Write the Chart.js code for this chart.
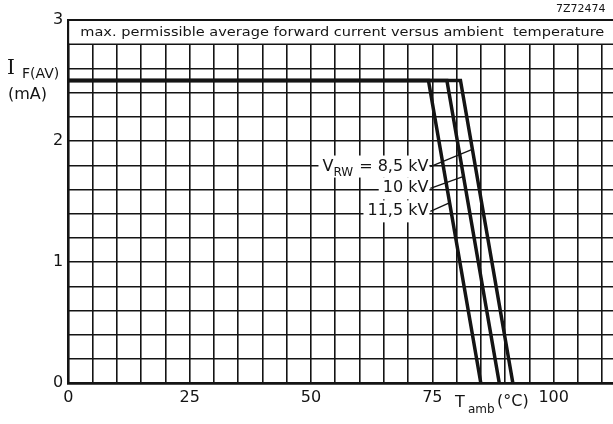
<!DOCTYPE html>
<html><head><meta charset="utf-8">
<script src="https://cdn.jsdelivr.net/npm/chart.js@4/dist/chart.umd.min.js"></script>
<style>
html,body{margin:0;padding:0;background:#fff;overflow:hidden;width:613px;height:424px}
#wrap{position:relative;width:680px;height:424px}
</style>
</head><body><div id="wrap"><canvas id="c" width="680" height="424"></canvas></div>
<script>
// ---- data ----
const xTickLabels = [0, 25, 50, 75, 100];
const yTickLabels = [0, 1, 2, 3];
const seriesNames = ['8,5 kV', '10 kV', '11,5 kV'];
const temp85  = [0, 80.8, 91.6];  const curr85  = [2.5, 2.5, 0];
const temp10  = [0, 78.0, 88.8];  const curr10  = [2.5, 2.5, 0];
const temp115 = [0, 74.2, 85.0];  const curr115 = [2.5, 2.5, 0];
const leaderTemp85  = [74.6, 83.1]; const leaderCurr85  = [1.79, 1.93];
const leaderTemp10  = [74.6, 81.6]; const leaderCurr10  = [1.61, 1.71];
const leaderTemp115 = [74.6, 78.5]; const leaderCurr115 = [1.42, 1.49];
const xMin = 0, xMax = 125, xStep = 5;
const yMin = 0, yMax = 3, yStep = 0.2, titleBandFrom = 2.8;
const titleText = 'max. permissible average forward current versus ambient  temperature';
const figCode = '7Z72474';

const INK = '#141414';
const FONT = '"DejaVu Sans", sans-serif';
const pts = (xs, ys) => xs.map((x, i) => ({x, y: ys[i]}));

const curves = [[temp85, curr85], [temp10, curr10], [temp115, curr115]];
const leaders = [[leaderTemp85, leaderCurr85], [leaderTemp10, leaderCurr10], [leaderTemp115, leaderCurr115]];

const datasets = [];
curves.forEach(([xs, ys], i) => datasets.push({
  label: seriesNames[i], data: pts(xs, ys), showLine: true, borderColor: INK,
  borderWidth: 3.5, pointRadius: 0, tension: 0, borderJoinStyle: 'miter'
}));
leaders.forEach(([xs, ys], i) => datasets.push({
  label: 'leader ' + seriesNames[i], data: pts(xs, ys), showLine: true, borderColor: INK,
  borderWidth: 1.3, pointRadius: 0, tension: 0
}));

const isInt = v => Math.abs(v - Math.round(v)) < 1e-6;

const annot = {
  id: 'annot',
  beforeDatasetsDraw(chart) {
    const {ctx, scales: {x, y}} = chart;
    ctx.save();
    leaders.forEach(([xs, ys], i) => {
      const px = x.getPixelForValue(xs[0]) - 2;
      const py = y.getPixelForValue(ys[0]);
      ctx.font = '16px ' + FONT;
      const main = (i === 0 ? '= ' : '') + seriesNames[i];
      const wMain = ctx.measureText(main).width;
      let left = px - wMain;
      let parts = [];
      if (i === 0) {
        ctx.font = '12px ' + FONT;
        const wSub = ctx.measureText('RW').width;
        ctx.font = '16px ' + FONT;
        const wV = ctx.measureText('V').width;
        const subLeft = left - 6 - wSub;
        const vLeft = subLeft - wV;
        parts.push(['V', vLeft, py, 16], ['RW', subLeft, py + 6, 12]);
        left = vLeft;
      }
      ctx.fillStyle = '#fff';
      ctx.fillRect(left - 4, py - 11, px - left + 5, 22);
      ctx.fillStyle = INK;
      ctx.textBaseline = 'middle';
      ctx.textAlign = 'left';
      parts.forEach(([t, lx, ly, fs]) => { ctx.font = fs + 'px ' + FONT; ctx.fillText(t, lx, ly); });
      ctx.font = '16px ' + FONT;
      ctx.fillText(main, px - wMain, py);
    });
    ctx.restore();
  },
  afterDatasetsDraw(chart) {
    const {ctx, chartArea: ca, scales: {x, y}} = chart;
    ctx.save();
    // title band
    const yTop = y.getPixelForValue(yMax), yBot = y.getPixelForValue(titleBandFrom);
    ctx.fillStyle = '#fff';
    ctx.fillRect(ca.left + 1, yTop + 1, ca.right - ca.left, yBot - yTop - 1);
    ctx.strokeStyle = INK;
    ctx.lineWidth = 1.6;
    ctx.beginPath(); ctx.moveTo(ca.left, yBot); ctx.lineTo(ca.right, yBot); ctx.stroke();
    ctx.lineWidth = 2;
    ctx.beginPath(); ctx.moveTo(ca.left, yTop); ctx.lineTo(ca.right, yTop); ctx.stroke();
    ctx.fillStyle = INK;
    ctx.font = '13px ' + FONT;
    ctx.textBaseline = 'middle';
    ctx.textAlign = 'left';
    const tw = ctx.measureText(titleText).width;
    const targetW = 524;
    ctx.save();
    ctx.translate(ca.left + 12, (yTop + yBot) / 2 + 0.5);
    ctx.scale(targetW / tw, 1);
    ctx.fillText(titleText, 0, 0);
    ctx.restore();
    // figure code
    ctx.font = '11px ' + FONT;
    ctx.textBaseline = 'middle';
    ctx.fillText(figCode, 556, 9);
    // y axis title
    ctx.font = '20px "DejaVu Serif", serif';
    ctx.fillText('I', 7, 69);
    ctx.font = '14px ' + FONT;
    ctx.fillText('F(AV)', 22, 74);
    ctx.font = '16px ' + FONT;
    ctx.fillText('(mA)', 8, 95);
    // x axis title
    ctx.font = '16px ' + FONT;
    ctx.fillText('T', 455, 403);
    ctx.font = '12px ' + FONT;
    ctx.fillText('amb', 468, 410);
    ctx.font = '16px ' + FONT;
    ctx.fillText('(°C)', 497, 402);
    ctx.restore();
  }
};

new Chart(document.getElementById('c'), {
  type: 'scatter',
  data: {datasets},
  plugins: [annot],
  options: {
    responsive: false, animation: false, devicePixelRatio: 1,
    layout: {padding: {left: 0, top: 20, right: 3.7, bottom: 0}},
    plugins: {legend: {display: false}, tooltip: {enabled: false}, title: {display: false}},
    scales: {
      x: {
        type: 'linear', min: xMin, max: xMax,
        afterFit: s => { s.height = 40.7; },
        ticks: {
          stepSize: xStep, autoSkip: false, maxRotation: 0, padding: 5,
          color: INK, font: {family: FONT, size: 16},
          callback: v => xTickLabels.includes(Math.round(v * 1000) / 1000) && isInt(v) ? String(Math.round(v)) : ''
        },
        grid: {color: INK, lineWidth: 1.6, drawTicks: false},
        border: {display: true, color: INK, width: 2.5}
      },
      y: {
        type: 'linear', min: yMin, max: yMax,
        afterFit: s => { s.width = 68.3; },
        ticks: {
          stepSize: yStep, autoSkip: false, padding: 5,
          color: INK, font: {family: FONT, size: 16},
          callback: v => isInt(v) && yTickLabels.includes(Math.round(v)) ? String(Math.round(v)) : ''
        },
        grid: {color: INK, lineWidth: 1.6, drawTicks: false},
        border: {display: true, color: INK, width: 2}
      }
    }
  }
});
</script>
</body></html>
